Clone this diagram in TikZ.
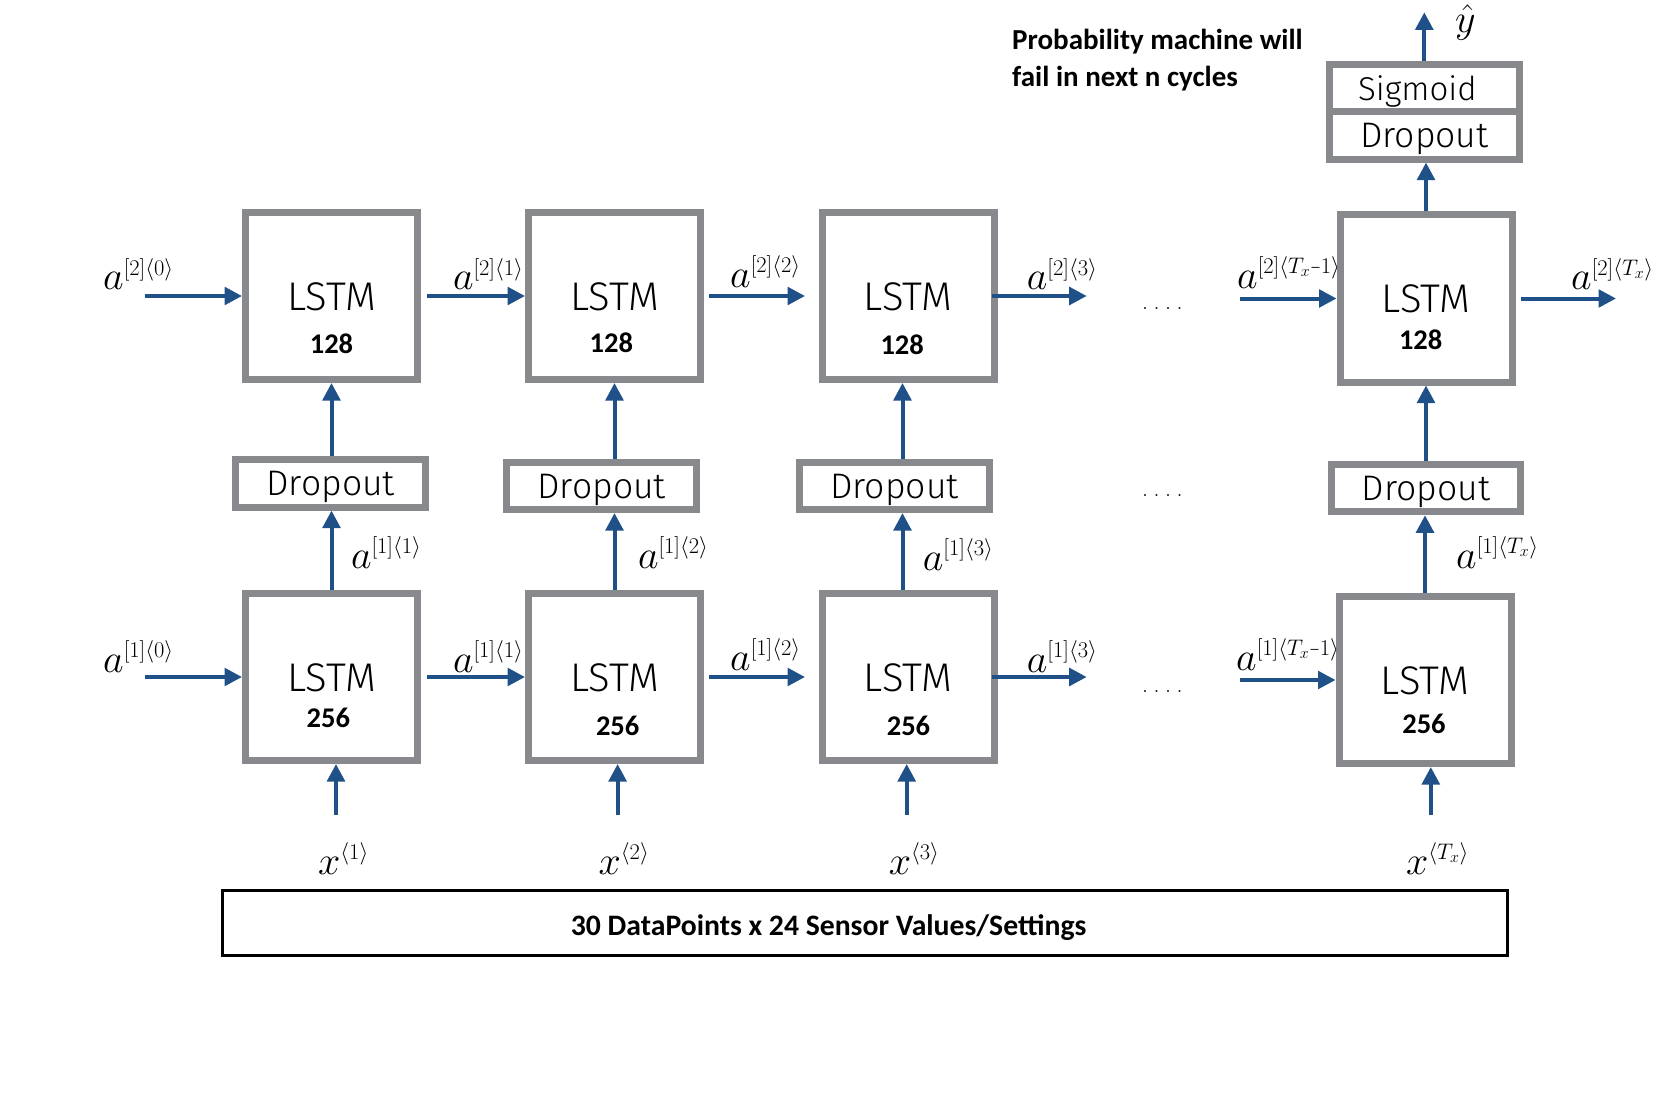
\RequirePackage{fix-cm}
\documentclass[tikz,border=0pt]{standalone}
\usepackage{fontspec}
\newfontfamily\notofont{Fira Sans}[UprightFont=* Light]
\newfontfamily\carfont{Carlito}
\DeclareMathSizes{40}{40}{22.5}{16}
\usetikzlibrary{arrows.meta,calc}
\definecolor{arrowblue}{HTML}{1F5088}
\definecolor{boxgray}{HTML}{87898D}
\tikzset{
  lstm/.style={draw=boxgray, line width=7pt, minimum width=172pt, minimum height=167pt, inner sep=0pt},
  drop/.style={draw=boxgray, line width=7pt, minimum width=189.5pt, minimum height=47.5pt, inner sep=0pt,
    font=\notofont\fontsize{35.5}{42}\selectfont, text height=24.5pt, text depth=0pt},
  lstmtxt/.style={anchor=base, inner sep=0pt, font=\notofont\fontsize{40}{48}\selectfont},
  numtxt/.style={anchor=base, inner sep=0pt, font=\carfont\bfseries\fontsize{28.5}{34}\selectfont},
  arr/.style={draw=arrowblue, line width=4pt, -{Triangle[length=17.5pt,width=17.5pt]}},
  lab/.style={anchor=base west, inner sep=0pt, font=\fontsize{40}{48}\selectfont},
  dots/.style={anchor=base west, inner sep=0pt, font=\fontsize{24}{28}\selectfont},
  boldtxt/.style={inner sep=0pt, font=\carfont\bfseries\fontsize{29}{35}\selectfont},
}
\newcommand{\fourdots}{.\hspace{5.5pt}.\hspace{5.5pt}.\hspace{5.5pt}.}
\newcommand{\shortminus}{\scalebox{0.6}[1]{$\scriptstyle-$}}
\begin{document}
\begin{tikzpicture}[x=1pt,y=-1pt]
\fill[white] (0,0) rectangle (1666,1094);
\useasboundingbox (0,0) rectangle (1666,1094);

% LSTM boxes, layer 2 (top)
\node[lstm] (L1a) at (331.5,296) {};
\node[lstm] (L2a) at (614.5,296) {};
\node[lstm] (L3a) at (908,296) {};
\node[lstm] (L4a) at (1426,298.5) {};
% LSTM boxes, layer 1 (bottom)
\node[lstm] (L1b) at (331.5,677) {};
\node[lstm] (L2b) at (614.5,677) {};
\node[lstm] (L3b) at (908,677) {};
\node[lstm] (L4b) at (1425,680) {};

% texts inside LSTM boxes
\node[lstmtxt] (L1at) at ($(L1a)+(0,14)$) {LSTM};
\node[lstmtxt] (L2at) at ($(L2a)+(0,14)$) {LSTM};
\node[lstmtxt] (L3at) at ($(L3a)+(0,14)$) {LSTM};
\node[lstmtxt] (L4at) at ($(L4a)+(0,14)$) {LSTM};
\node[lstmtxt] (L1bt) at ($(L1b)+(0,14)$) {LSTM};
\node[lstmtxt] (L2bt) at ($(L2b)+(0,14)$) {LSTM};
\node[lstmtxt] (L3bt) at ($(L3b)+(0,14)$) {LSTM};
\node[lstmtxt] (L4bt) at ($(L4b)+(0,14)$) {LSTM};
\node[numtxt] (L1an) at ($(L1a)+(0,57)$) {128};
\node[numtxt] (L2an) at ($(L2a)+(-3.2,56)$) {128};
\node[numtxt] (L3an) at ($(L3a)+(-5.8,58)$) {128};
\node[numtxt] (L4an) at ($(L4a)+(-5.3,50.5)$) {128};
\node[numtxt] (L1bn) at ($(L1b)+(-3.2,50.5)$) {256};
\node[numtxt] (L2bn) at ($(L2b)+(3.2,58)$) {256};
\node[numtxt] (L3bn) at ($(L3b)+(0.5,58)$) {256};
\node[numtxt] (L4bn) at ($(L4b)+(-1,53.7)$) {256};

% Dropout boxes
\node[drop] (D1) at (330.7,483.3) {Dropout};
\node[drop] (D2) at (601.7,485.8) {Dropout};
\node[drop] (D3) at (894.5,485.8) {Dropout};
\node[drop] (D4) at (1426,488) {Dropout};
% output stack
\node[drop, font=\notofont\fontsize{33}{40}\selectfont] (SG) at (1424.3,88) {Sigmoid\hspace*{14pt}};
\node[drop] (DT) at (1424.3,135.3) {Dropout};

% input data box
\node[draw=black, line width=3pt, minimum width=1284.5pt, minimum height=64.5pt, inner sep=0pt] (BB) at (864.75,922.75) {};
\node[boldtxt, anchor=base, font=\carfont\bfseries\fontsize{29.7}{35}\selectfont] (BT) at (828.6,935) {30 DataPoints x 24 Sensor Values/Settings};

% title text
\node[boldtxt, anchor=base west] (P1) at (1012,50) {Probability machine will};
\node[boldtxt, anchor=base west] (P2) at (1012,87) {fail in next n cycles};

% horizontal arrows, layer 2
\coordinate (a20) at (144.6,296);
\coordinate (a23) at (1086.7,296);
\coordinate (a2T1) at (1239.5,298.5);
\coordinate (a2T) at (1616,298.5);
\draw[arr] (a20) -- (L1a.west);
\draw[arr] ([xshift=6pt]L1a.east) -- (L2a.west);
\draw[arr] ([xshift=5pt]L2a.east) -- ([xshift=-13.5pt]L3a.west);
\draw[arr] ([xshift=-6pt]L3a.east) -- (a23);
\draw[arr] (a2T1) -- (L4a.west);
\draw[arr] ([xshift=5.5pt]L4a.east) -- (a2T);

% horizontal arrows, layer 1
\coordinate (a10) at (144.6,677);
\coordinate (a13) at (1086.7,677);
\coordinate (a1T1) at (1239.5,680);
\draw[arr] (a10) -- (L1b.west);
\draw[arr] ([xshift=6pt]L1b.east) -- (L2b.west);
\draw[arr] ([xshift=5pt]L2b.east) -- ([xshift=-13.5pt]L3b.west);
\draw[arr] ([xshift=-6pt]L3b.east) -- (a13);
\draw[arr] (a1T1) -- (L4b.west);

% vertical arrows
\draw[arr] (L1b.north) -- (L1b.north |- D1.south);
\draw[arr] (L1a.south |- D1.north) -- (L1a.south);
\draw[arr] (L2b.north) -- (L2b.north |- D2.south);
\draw[arr] (L2a.south |- D2.north) -- (L2a.south);
\draw[arr] ([xshift=-5.5pt]L3b.north) -- ([xshift=-5.5pt]L3b.north |- D3.south);
\draw[arr] ([xshift=-5.5pt]L3a.south |- D3.north) -- ([xshift=-5.5pt]L3a.south);
\draw[arr] (L4b.north) -- (L4b.north |- D4.south);
\draw[arr] (L4a.south |- D4.north) -- (L4a.south);
\draw[arr] (L4a.north) -- (L4a.north |- DT.south);
\coordinate (yout) at (1424.3,12.3);
\draw[arr] (SG.north) -- (yout);

% input arrows
\coordinate (x1) at (336,815);
\coordinate (x2) at (617.6,815);
\coordinate (x3) at (906.7,815);
\coordinate (xT) at (1430.8,815);
\draw[arr] (x1) -- (x1 |- L1b.south);
\draw[arr] (x2) -- (x2 |- L2b.south);
\draw[arr] (x3) -- (x3 |- L3b.south);
\draw[arr] (xT) -- (xT |- L4b.south);

% labels layer 2
\node[lab] (la20) at (103,290) {$a^{[2]\langle 0\rangle}$};
\node[lab] (la21) at (452.8,290) {$a^{[2]\langle 1\rangle}$};
\node[lab] (la22) at (730,287.5) {$a^{[2]\langle 2\rangle}$};
\node[lab] (la23) at (1026.7,290) {$a^{[2]\langle 3\rangle}$};
\node[lab] (la2T1) at (1237,288) {$a^{[2]\langle T_x\shortminus 1\rangle}$};
\node[lab] (la2T) at (1571,290) {$a^{[2]\langle T_x\rangle}$};
% labels layer 1
\node[lab] (la10) at (103,672) {$a^{[1]\langle 0\rangle}$};
\node[lab] (la11) at (452.8,672) {$a^{[1]\langle 1\rangle}$};
\node[lab] (la12) at (730,670) {$a^{[1]\langle 2\rangle}$};
\node[lab] (la13) at (1026.7,672) {$a^{[1]\langle 3\rangle}$};
\node[lab] (la1T1) at (1236,670) {$a^{[1]\langle T_x\shortminus 1\rangle}$};
% labels between layers
\node[lab] (lm1) at (350.8,568) {$a^{[1]\langle 1\rangle}$};
\node[lab] (lm2) at (637.8,568) {$a^{[1]\langle 2\rangle}$};
\node[lab] (lm3) at (922.7,570) {$a^{[1]\langle 3\rangle}$};
\node[lab] (lmT) at (1456,568) {$a^{[1]\langle T_x\rangle}$};
% input labels
\node[lab] (lx1) at (318,874) {$x^{\langle 1\rangle}$};
\node[lab] (lx2) at (598.5,874) {$x^{\langle 2\rangle}$};
\node[lab] (lx3) at (888.7,874) {$x^{\langle 3\rangle}$};
\node[lab] (lxT) at (1406,874) {$x^{\langle T_x\rangle}$};
% output label
\node[lab] (ly) at (1455,33) {$\hat{y}$};

% ellipses
\node[dots] (dt1) at (1142,309) {\fourdots};
\node[dots] (dt2) at (1142,496) {\fourdots};
\node[dots] (dt3) at (1142,692) {\fourdots};
\end{tikzpicture}
\end{document}
